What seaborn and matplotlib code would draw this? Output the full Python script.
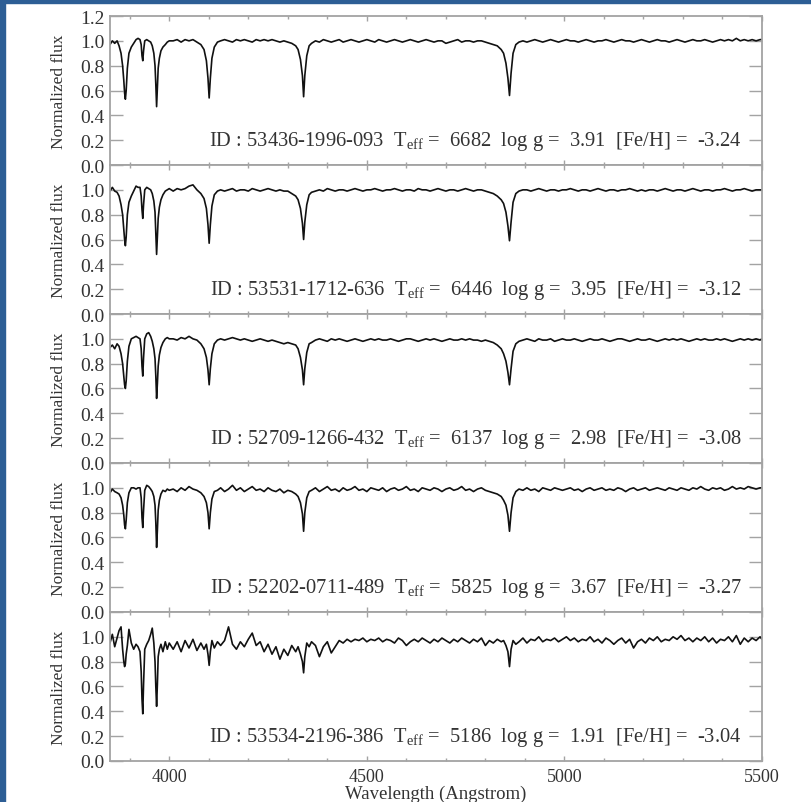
import pandas as pd
import seaborn as sns
import matplotlib.pyplot as plt
from matplotlib.patches import Rectangle
from matplotlib.ticker import MultipleLocator

# wavelength grid (Angstrom), denser around the absorption lines
wave_a = [3850, 3856, 3862, 3868, 3873, 3878, 3882, 3885, 3887, 3889,
          3891, 3894, 3898, 3904, 3910, 3916, 3921, 3926, 3929, 3931,
          3933, 3935, 3938, 3943, 3948, 3953, 3957, 3961, 3964, 3966,
          3968, 3970, 3972, 3975, 3979, 3984, 3990, 3995, 4000]
wave_b = list(range(4010, 4090, 10))
wave_c = [4088, 4094, 4098, 4101, 4104, 4108, 4114, 4122]
wave_d = list(range(4130, 4330, 10))
wave_e = [4326, 4332, 4337, 4340, 4343, 4348, 4354]
wave_f = list(range(4360, 4850, 10))
wave_g = [4846, 4852, 4857, 4861, 4865, 4870, 4877]
wave_h = list(range(4885, 5500, 10)) + [5500]
wavelength = wave_a + wave_b + wave_c + wave_d + wave_e + wave_f + wave_g + wave_h

# normalized flux (one list per star, same grid)
flux_1 = (
    [0.97, 1.00, 0.98, 1.00, 0.96, 0.90, 0.80, 0.68, 0.58, 0.53,
     0.60, 0.78, 0.90, 0.95, 0.98, 1.01, 1.02, 1.01, 0.97, 0.88,
     0.84, 0.92, 1.00, 1.01, 1.00, 0.99, 0.96, 0.90, 0.80, 0.65,
     0.47, 0.62, 0.78, 0.86, 0.92, 0.95, 0.97, 0.99, 1.00]
    + [1.00, 1.01, 0.99, 1.01, 1.00, 1.01, 0.99, 0.97]
    + [0.93, 0.84, 0.70, 0.54, 0.70, 0.86, 0.95, 0.99]
    + [1.00, 1.01, 1.00, 0.99, 1.01, 1.00, 1.01, 1.00, 0.99, 1.01,
       1.00, 1.01, 1.00, 1.01, 1.00, 0.99, 1.00, 0.99, 0.98, 0.96]
    + [0.93, 0.85, 0.72, 0.55, 0.72, 0.88, 0.96]
    + [0.98, 1.00, 0.99, 1.01, 1.00, 0.99, 1.00, 1.01, 0.99, 1.00,
       1.01, 1.00, 0.99, 1.00, 1.01, 1.00, 0.99, 1.01, 1.00, 0.99,
       1.00, 1.01, 1.00, 0.99, 1.00, 1.01, 1.00, 0.99, 1.00, 1.01,
       1.00, 0.99, 1.00, 1.00, 0.98, 0.99, 1.00, 1.01, 0.99, 1.00,
       1.00, 0.99, 1.00, 1.00, 0.99, 0.98, 0.97, 0.96, 0.93]
    + [0.90, 0.82, 0.70, 0.56, 0.74, 0.90, 0.97]
    + [0.99, 1.00, 0.99, 1.00, 1.01, 1.00, 0.99, 1.00, 1.01, 1.00,
       0.99, 1.00, 1.01, 1.00, 1.00, 0.99, 1.00, 1.01, 1.00, 0.99,
       1.00, 1.00, 1.01, 1.00, 0.99, 1.00, 1.01, 1.00, 1.00, 0.99,
       1.00, 1.01, 1.00, 0.99, 1.00, 1.01, 1.00, 1.00, 0.99, 1.00,
       1.01, 1.00, 0.99, 1.00, 1.01, 1.00, 1.00, 1.01, 1.00, 0.99,
       1.00, 1.01, 1.00, 1.01, 1.00, 1.02, 1.00, 1.01, 1.00, 1.01,
       1.00, 1.01, 1.01]
)

flux_2 = (
    [0.99, 1.02, 0.99, 0.98, 0.95, 0.88, 0.80, 0.68, 0.60, 0.55,
     0.62, 0.80, 0.90, 0.95, 0.99, 1.03, 1.02, 1.02, 0.95, 0.84,
     0.77, 0.88, 1.00, 1.02, 1.01, 1.00, 0.97, 0.91, 0.82, 0.66,
     0.48, 0.62, 0.77, 0.86, 0.92, 0.96, 0.99, 1.00, 1.01]
    + [0.99, 1.01, 1.00, 1.01, 1.03, 1.04, 1.00, 0.97]
    + [0.93, 0.85, 0.72, 0.57, 0.72, 0.87, 0.96, 0.99]
    + [1.00, 0.99, 1.00, 1.01, 0.99, 1.00, 1.00, 0.99, 1.01, 1.00,
       0.99, 1.00, 1.01, 1.00, 0.99, 1.00, 0.99, 0.99, 0.97, 0.95]
    + [0.92, 0.85, 0.73, 0.60, 0.74, 0.88, 0.96]
    + [0.98, 0.99, 1.00, 0.99, 1.01, 1.00, 0.99, 1.00, 1.00, 0.99,
       1.00, 1.01, 1.00, 0.99, 1.00, 1.00, 1.01, 1.00, 0.99, 1.00,
       1.00, 1.01, 1.00, 0.99, 1.00, 1.00, 0.99, 1.01, 1.00, 1.00,
       0.99, 1.00, 1.01, 1.00, 0.99, 1.00, 1.00, 0.99, 1.00, 1.01,
       1.00, 0.99, 1.00, 1.00, 0.99, 0.98, 0.97, 0.95, 0.92]
    + [0.89, 0.82, 0.71, 0.59, 0.74, 0.90, 0.97]
    + [0.99, 1.00, 1.00, 0.99, 1.00, 1.01, 1.00, 0.99, 1.00, 1.00,
       0.99, 1.00, 1.00, 1.01, 1.00, 0.99, 1.00, 1.00, 0.99, 1.00,
       1.01, 1.00, 0.99, 1.00, 1.00, 0.99, 1.00, 1.00, 1.01, 1.00,
       0.99, 1.00, 0.99, 1.00, 1.00, 0.99, 1.00, 1.01, 1.00, 0.99,
       1.00, 1.00, 0.99, 1.00, 1.01, 1.00, 0.99, 1.00, 1.00, 0.99,
       1.00, 1.00, 1.01, 1.00, 0.99, 1.00, 1.00, 1.01, 1.00, 0.99,
       1.00, 1.00, 1.00]
)

flux_3 = (
    [0.93, 0.95, 0.92, 0.96, 0.94, 0.88, 0.80, 0.70, 0.63, 0.60,
     0.66, 0.82, 0.94, 1.00, 1.01, 1.02, 1.01, 1.00, 0.92, 0.78,
     0.70, 0.85, 1.00, 1.04, 1.05, 1.02, 0.98, 0.92, 0.84, 0.70,
     0.52, 0.64, 0.78, 0.87, 0.93, 0.97, 1.00, 1.01, 1.00]
    + [1.00, 0.99, 1.01, 1.00, 1.02, 1.00, 0.99, 0.96]
    + [0.92, 0.85, 0.75, 0.63, 0.76, 0.88, 0.96, 0.99]
    + [1.00, 0.99, 1.00, 1.01, 1.00, 0.99, 1.00, 0.99, 0.98, 0.99,
       1.00, 0.99, 0.98, 0.99, 0.98, 0.97, 0.96, 0.97, 0.96, 0.95]
    + [0.92, 0.85, 0.75, 0.63, 0.76, 0.89, 0.96]
    + [0.97, 0.99, 1.00, 0.99, 0.98, 1.00, 0.99, 1.00, 0.99, 0.98,
       0.99, 1.00, 0.99, 0.98, 0.99, 1.00, 0.99, 1.00, 0.99, 0.99,
       1.00, 0.99, 0.98, 0.99, 1.00, 1.00, 0.99, 0.98, 0.99, 1.00,
       0.99, 1.00, 0.99, 0.98, 0.99, 1.00, 0.99, 0.99, 1.00, 0.99,
       1.00, 0.99, 0.99, 0.98, 0.99, 0.98, 0.97, 0.95, 0.92]
    + [0.88, 0.82, 0.73, 0.63, 0.76, 0.90, 0.96]
    + [0.98, 0.99, 1.00, 0.99, 0.98, 1.00, 0.99, 0.99, 1.00, 0.98,
       0.99, 1.00, 0.99, 0.99, 1.00, 0.99, 0.98, 0.99, 1.00, 0.99,
       0.99, 1.00, 0.99, 0.98, 0.99, 1.00, 1.00, 0.99, 0.98, 0.99,
       1.00, 0.99, 0.99, 1.00, 0.99, 0.98, 0.99, 1.00, 0.99, 1.00,
       0.99, 1.00, 0.99, 0.98, 0.99, 1.00, 0.99, 1.00, 0.99, 0.99,
       1.00, 0.99, 1.00, 0.99, 0.98, 0.99, 1.00, 0.99, 1.00, 0.99,
       1.00, 0.99, 1.00]
)

flux_4 = (
    [0.96, 0.99, 0.97, 0.96, 0.95, 0.92, 0.86, 0.78, 0.70, 0.67,
     0.74, 0.88, 0.96, 1.00, 1.00, 0.99, 1.00, 1.00, 0.92, 0.76,
     0.68, 0.82, 0.98, 1.02, 1.01, 0.99, 0.97, 0.93, 0.86, 0.72,
     0.52, 0.66, 0.82, 0.90, 0.95, 0.98, 0.97, 0.99, 0.98]
    + [0.99, 0.97, 1.00, 0.98, 1.01, 0.99, 0.98, 0.96]
    + [0.93, 0.88, 0.80, 0.67, 0.80, 0.91, 0.97, 0.98]
    + [1.00, 0.97, 0.99, 1.02, 0.98, 1.00, 0.97, 0.99, 1.01, 0.98,
       0.99, 0.97, 1.00, 0.98, 0.97, 0.99, 0.96, 0.98, 0.97, 0.95]
    + [0.93, 0.88, 0.79, 0.65, 0.80, 0.92, 0.97]
    + [0.98, 1.00, 0.97, 0.99, 1.01, 0.98, 0.99, 0.97, 1.00, 0.98,
       0.99, 1.01, 0.98, 0.99, 0.97, 1.00, 0.99, 0.98, 1.00, 0.97,
       0.99, 1.00, 0.98, 0.99, 1.01, 0.98, 0.99, 0.97, 1.00, 0.99,
       0.98, 1.00, 0.99, 0.97, 0.99, 1.00, 0.98, 0.99, 1.01, 0.98,
       0.99, 0.97, 0.99, 1.00, 0.98, 0.97, 0.96, 0.95, 0.93]
    + [0.90, 0.86, 0.78, 0.65, 0.80, 0.92, 0.97]
    + [0.99, 0.98, 1.00, 0.98, 0.99, 0.97, 1.00, 0.99, 0.98, 1.00,
       0.99, 0.98, 0.99, 1.00, 0.98, 0.99, 0.97, 0.99, 1.00, 0.98,
       0.99, 1.00, 0.98, 0.99, 0.98, 1.00, 0.99, 0.97, 0.99, 1.00,
       0.98, 0.99, 1.00, 0.98, 0.99, 1.00, 0.99, 0.98, 1.00, 0.99,
       0.98, 1.00, 0.99, 0.98, 1.00, 0.99, 1.01, 0.99, 0.98, 1.00,
       0.99, 1.00, 0.98, 0.99, 1.01, 0.99, 1.00, 0.99, 1.01, 1.00,
       0.99, 1.00, 1.00]
)

flux_5 = (
    [0.95, 1.02, 0.92, 0.99, 1.05, 1.08, 0.90, 0.80, 0.76, 0.78,
     0.86, 0.93, 1.06, 0.95, 0.90, 0.94, 0.92, 0.88, 0.72, 0.50,
     0.38, 0.62, 0.90, 0.94, 0.97, 1.02, 1.07, 0.95, 0.80, 0.60,
     0.44, 0.62, 0.84, 0.90, 0.94, 0.88, 0.96, 0.90, 0.95]
    + [0.90, 0.96, 0.88, 0.97, 0.91, 0.98, 0.89, 0.95]
    + [0.90, 0.94, 0.86, 0.77, 0.88, 0.97, 0.91, 0.96]
    + [0.93, 0.97, 1.08, 0.94, 0.90, 0.96, 0.92, 0.98, 1.03, 0.93,
       0.96, 0.88, 0.94, 0.86, 0.92, 0.82, 0.90, 0.85, 0.93, 0.88]
    + [0.92, 0.86, 0.80, 0.71, 0.84, 0.95, 0.92]
    + [0.96, 0.93, 0.84, 0.92, 0.96, 0.87, 0.92, 0.97, 0.95, 0.98,
       0.96, 0.98, 0.97, 0.99, 0.96, 0.98, 0.97, 0.99, 0.96, 0.98,
       0.97, 0.95, 0.99, 0.97, 0.93, 0.96, 0.98, 0.96, 0.99, 0.97,
       0.95, 0.98, 0.96, 0.99, 0.97, 0.95, 0.98, 0.96, 0.99, 0.97,
       0.95, 0.98, 0.96, 0.99, 0.93, 0.97, 0.95, 0.98, 0.96]
    + [0.97, 0.93, 0.88, 0.76, 0.90, 0.97, 0.94]
    + [0.96, 0.99, 0.95, 0.98, 0.97, 1.00, 0.96, 0.98, 0.97, 0.99,
       0.96, 0.98, 1.00, 0.97, 0.99, 0.96, 0.98, 0.97, 1.00, 0.96,
       0.98, 0.95, 0.99, 0.97, 0.94, 0.97, 0.99, 0.95, 0.98, 0.91,
       0.96, 0.98, 0.95, 0.99, 0.97, 1.00, 0.96, 0.98, 0.97, 1.00,
       0.98, 1.01, 0.97, 0.99, 0.96, 0.99, 0.97, 1.00, 0.96, 0.99,
       0.95, 0.98, 0.97, 1.00, 0.96, 1.01, 0.94, 0.99, 0.96, 0.99,
       0.97, 1.00, 0.98]
)

fluxes = [flux_1, flux_2, flux_3, flux_4, flux_5]

star_ids = ["53436-1996-093", "53531-1712-636", "52709-1266-432",
            "52202-0711-489", "53534-2196-386"]
teff = ["6682", "6446", "6137", "5825", "5186"]
logg = ["3.91", "3.95", "2.98", "3.67", "1.91"]
feh = ["-3.24", "-3.12", "-3.08", "-3.27", "-3.04"]

yticks = [0.0, 0.2, 0.4, 0.6, 0.8, 1.0, 1.2]
ytick_labels = ["0.0", "0.2", "0.4", "0.6", "0.8", "1.0", "1.2"]

sns.set_theme(style="ticks")
plt.rcParams["font.family"] = ["Liberation Serif", "DejaVu Serif"]
plt.rcParams["mathtext.fontset"] = "custom"
plt.rcParams["mathtext.rm"] = "Liberation Serif"
plt.rcParams["mathtext.it"] = "Liberation Serif:italic"

frame_col = "#a3a3a3"
text_col = "#333333"

fig, axes = plt.subplots(5, 1, figsize=(8.11, 8.03), dpi=100, sharex=True,
                         gridspec_kw={"hspace": 0})
fig.subplots_adjust(left=0.1356, right=0.9396, bottom=0.0511, top=0.9788)

for i, ax in enumerate(axes):
    df = pd.DataFrame({"wavelength": wavelength, "flux": fluxes[i]})
    sns.lineplot(data=df, x="wavelength", y="flux", ax=ax, color="#111111",
                 lw=1.2, estimator=None)

    ax.set_xlim(3850, 5500)
    ax.set_ylim(0, 1.2)
    ax.set_yticks(yticks)
    ax.set_yticklabels(ytick_labels if i == 0 else ytick_labels[:-1] + [""])
    ax.xaxis.set_major_locator(MultipleLocator(500))
    ax.xaxis.set_minor_locator(MultipleLocator(100))

    for s in ax.spines.values():
        s.set_color(frame_col)
        s.set_linewidth(1.3)

    ax.tick_params(axis="y", which="major", direction="in", length=9.5, width=1,
                   color=frame_col, left=True, right=True, labelsize=14,
                   labelcolor=text_col, pad=4)
    ax.tick_params(axis="x", which="major", direction="in", length=3.5, width=1,
                   color=frame_col, top=True, bottom=True, labelsize=13,
                   labelcolor=text_col, pad=5)
    ax.tick_params(axis="x", which="minor", direction="in", length=2, width=1,
                   color=frame_col, top=True, bottom=True)

    ax.set_ylabel("Normalized flux", fontsize=12.5, color=text_col)
    ax.yaxis.set_label_coords(-0.066, 0.5)
    ax.set_xlabel("")

    label = (f"ID : {star_ids[i]}  T$_{{\\rm eff}}$ =  {teff[i]}  "
             f"log g =  {logg[i]}  [Fe/H] =  {feh[i]}")
    ax.text(0.969, 0.2, label, transform=ax.get_yaxis_transform(),
            ha="right", va="center", fontsize=14.8, color=text_col)

axes[-1].set_xlabel("Wavelength (Angstrom)", fontsize=13.5, color=text_col)
axes[-1].xaxis.set_label_coords(0.5, -0.16)

# blue frame of the slide on the left and top edges
fig.add_artist(Rectangle((0, 0), 5 / 811, 1, transform=fig.transFigure,
                         color="#2d5e95", zorder=10))
fig.add_artist(Rectangle((0, 1 - 4 / 803), 1, 4 / 803, transform=fig.transFigure,
                         color="#2d5e95", zorder=10))

fig.savefig("out.png", dpi=100)
